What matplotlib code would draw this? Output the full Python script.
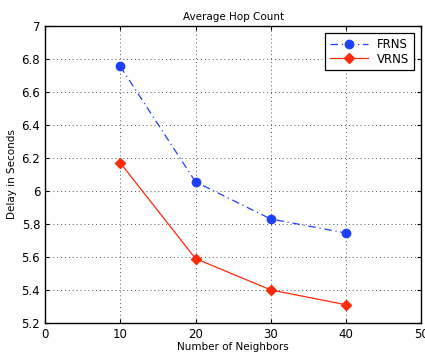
import matplotlib
matplotlib.use("Agg")
import matplotlib.pyplot as plt

# dados
vizinhos = [10, 20, 30, 40]
frns = [6.755, 6.055, 5.83, 5.745]
vrns = [6.17, 5.59, 5.40, 5.31]

fig = plt.figure(figsize=(4.25, 3.56), dpi=100)
ax = fig.add_axes([0.106, 0.093, 0.885, 0.834])

ax.plot(vizinhos, frns, color='#1f3fff', linestyle=(0, (6, 3, 1, 3)), linewidth=0.9,
        marker='o', markersize=6, label='FRNS')
ax.plot(vizinhos, vrns, color='#ff2a0a', linestyle='-', linewidth=0.9,
        marker='D', markersize=5, label='VRNS')

ax.set_xlim(0, 50)
ax.set_ylim(5.2, 7)
ax.set_xticks([0, 10, 20, 30, 40, 50])
ax.set_yticks([5.2, 5.4, 5.6, 5.8, 6, 6.2, 6.4, 6.6, 6.8, 7])
ax.set_yticklabels(['5.2', '5.4', '5.6', '5.8', '6', '6.2', '6.4', '6.6', '6.8', '7'])
ax.tick_params(direction='in', labelsize=8.5, length=3, top=True, right=True)
ax.grid(True, linestyle=(0, (1, 3)), color='#555555', linewidth=0.7)
for s in ax.spines.values():
    s.set_linewidth(1.0)

ax.set_title('Average Hop Count', fontsize=7.5, pad=4)
ax.set_xlabel('Number of Neighbors', fontsize=7.5, labelpad=1)
ax.set_ylabel('Delay in Seconds', fontsize=7.5, labelpad=3)

leg = ax.legend(loc='upper right', fontsize=8.5, fancybox=False, framealpha=1,
                edgecolor='black', borderpad=0.4, labelspacing=0.15,
                handlelength=3.2, borderaxespad=0.6)
leg.get_frame().set_linewidth(0.9)

fig.savefig('out.png', dpi=100)
